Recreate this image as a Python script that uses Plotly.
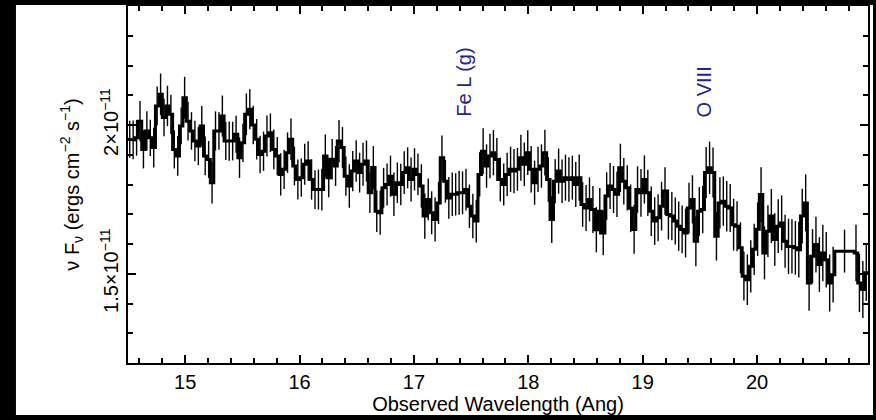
import numpy as np
import plotly.graph_objects as go

# Bin edges in Angstrom: regular 0.03 A grid, one wide bin over 20.68-20.85, then the last few bins
edges = np.concatenate([14.5 + 0.03 * np.arange(207), [20.85, 20.88, 20.91, 20.94, 20.97]])

# nu F_nu per bin, in units of 1e-11 erg cm^-2 s^-1
flux_e11 = [
    1.952, 1.950, 1.957, 2.013, 1.918, 1.980, 1.957, 1.924, 2.064, 2.103,
    2.025, 2.064, 2.036, 1.918, 1.896, 1.997, 2.092, 2.013, 1.980, 1.946,
    1.929, 1.997, 1.896, 1.884, 1.806, 1.980, 1.980, 2.030, 1.946, 1.946,
    1.946, 1.969, 1.890, 1.940, 2.036, 2.053, 2.000, 1.952, 1.901, 1.912,
    1.963, 1.974, 1.918, 1.896, 1.834, 1.851, 1.907, 1.952, 1.862, 1.817,
    1.823, 1.868, 1.879, 1.817, 1.783, 1.783, 1.783, 1.896, 1.823, 1.885,
    1.862, 1.946, 1.924, 1.828, 1.795, 1.845, 1.879, 1.840, 1.868, 1.879,
    1.772, 1.857, 1.710, 1.705, 1.789, 1.800, 1.828, 1.767, 1.806, 1.800,
    1.840, 1.856, 1.817, 1.851, 1.834, 1.795, 1.694, 1.750, 1.705, 1.682,
    1.738, 1.890, 1.811, 1.755, 1.767, 1.767, 1.772, 1.772, 1.783, 1.727,
    1.694, 1.677, 1.834, 1.912, 1.862, 1.896, 1.907, 1.884, 1.817, 1.800,
    1.834, 1.851, 1.845, 1.851, 1.890, 1.868, 1.907, 1.851, 1.806, 1.851,
    1.862, 1.907, 1.817, 1.682, 1.811, 1.845, 1.811, 1.823, 1.817, 1.823,
    1.800, 1.823, 1.733, 1.721, 1.750, 1.716, 1.648, 1.710, 1.637, 1.761,
    1.795, 1.783, 1.767, 1.856, 1.811, 1.789, 1.720, 1.649, 1.783, 1.772,
    1.817, 1.772, 1.710, 1.677, 1.688, 1.727, 1.778, 1.699, 1.694, 1.677,
    1.660, 1.649, 1.637, 1.721, 1.750, 1.609, 1.710, 1.716, 1.840, 1.856,
    1.840, 1.626, 1.738, 1.744, 1.727, 1.721, 1.665, 1.660, 1.587, 1.492,
    1.480, 1.525, 1.582, 1.650, 1.766, 1.570, 1.643, 1.694, 1.615, 1.660,
    1.671, 1.609, 1.592, 1.592, 1.587, 1.581, 1.694, 1.738, 1.469, 1.559,
    1.598, 1.531, 1.570, 1.547, 1.469, 1.497, 1.576, 1.570, 1.469, 1.447,
    1.503,
]

# 1-sigma errors per bin, same units
err_e11 = [
    0.062, 0.065, 0.060, 0.068, 0.064, 0.066, 0.061, 0.067, 0.065, 0.070,
    0.063, 0.068, 0.066, 0.064, 0.067, 0.062, 0.070, 0.065, 0.063, 0.068,
    0.064, 0.067, 0.065, 0.062, 0.070, 0.066, 0.063, 0.069, 0.064, 0.066,
    0.065, 0.062, 0.068, 0.064, 0.070, 0.067, 0.065, 0.068, 0.063, 0.066,
    0.069, 0.065, 0.067, 0.064, 0.071, 0.066, 0.068, 0.070, 0.065, 0.067,
    0.064, 0.069, 0.066, 0.068, 0.065, 0.067, 0.070, 0.072, 0.066, 0.068,
    0.067, 0.071, 0.069, 0.066, 0.073, 0.068, 0.070, 0.067, 0.072, 0.069,
    0.068, 0.072, 0.070, 0.074, 0.067, 0.071, 0.069, 0.073, 0.068, 0.070,
    0.072, 0.069, 0.074, 0.071, 0.070, 0.073, 0.076, 0.070, 0.072, 0.074,
    0.071, 0.075, 0.072, 0.070, 0.073, 0.071, 0.074, 0.072, 0.070, 0.073,
    0.075, 0.072, 0.074, 0.077, 0.073, 0.075, 0.076, 0.072, 0.074, 0.071,
    0.073, 0.076, 0.074, 0.072, 0.077, 0.073, 0.075, 0.078, 0.074, 0.076,
    0.073, 0.077, 0.075, 0.079, 0.074, 0.076, 0.073, 0.077, 0.075, 0.074,
    0.076, 0.078, 0.075, 0.077, 0.074, 0.079, 0.076, 0.078, 0.075, 0.080,
    0.077, 0.079, 0.076, 0.081, 0.078, 0.076, 0.080, 0.082, 0.078, 0.080,
    0.081, 0.078, 0.083, 0.080, 0.079, 0.082, 0.080, 0.084, 0.081, 0.079,
    0.083, 0.080, 0.082, 0.085, 0.081, 0.084, 0.082, 0.080, 0.086, 0.088,
    0.084, 0.082, 0.086, 0.083, 0.085, 0.081, 0.087, 0.084, 0.086, 0.082,
    0.085, 0.088, 0.086, 0.090, 0.092, 0.089, 0.087, 0.091, 0.088, 0.090,
    0.092, 0.089, 0.093, 0.091, 0.090, 0.094, 0.092, 0.096, 0.093, 0.091,
    0.094, 0.092, 0.095, 0.093, 0.096, 0.094, 0.072, 0.095, 0.098, 0.096,
    0.094,
]

# Line identifications: label and observed wavelength (A)
line_labels = ["Fe L (g)", "O VIII"]
line_waves = [17.43, 19.535]

# Axis ticks
x_range = [14.5, 20.97]
y_range_e11 = [1.2, 2.4]
y_tick_e11 = [1.5, 2.0]
y_tick_text = ["1.5×10<sup>−11</sup>", "2×10<sup>−11</sup>"]

SCALE = 1e-11
flux = np.array(flux_e11) * SCALE
err = np.array(err_e11) * SCALE
centers = 0.5 * (edges[:-1] + edges[1:])

# histogram outline: each bin drawn flat across its width
step_x = np.repeat(edges, 2)[1:-1]
step_y = np.repeat(flux, 2)

FONT = "Liberation Sans, Arial, Helvetica, sans-serif"

fig = go.Figure()
fig.add_trace(go.Scatter(
    x=step_x, y=step_y, mode="lines",
    line=dict(color="black", width=3),
    hoverinfo="skip", showlegend=False,
))
fig.add_trace(go.Scatter(
    x=centers, y=flux, mode="markers",
    marker=dict(size=1, color="black"),
    error_y=dict(type="data", array=err, visible=True,
                 color="black", thickness=1.4, width=0),
    showlegend=False,
))

for label, wave in zip(line_labels, line_waves):
    fig.add_annotation(
        x=wave, y=2.02e-11, xref="x", yref="y",
        text=label, textangle=-90, showarrow=False,
        xanchor="center", yanchor="bottom",
        font=dict(family=FONT, size=20, color="#24248a"),
    )

# white page on a black surround
fig.add_shape(
    type="rect", xref="paper", yref="paper",
    x0=-0.1514, x1=1.0068, y0=-0.1457, y1=1.0028,
    fillcolor="white", line=dict(width=0), layer="below",
)

axis_common = dict(
    showline=True, linecolor="black", linewidth=2, mirror="allticks",
    ticks="inside", tickcolor="black", tickwidth=1.5, ticklen=8,
    showgrid=False, zeroline=False,
    tickfont=dict(family=FONT, size=20, color="black"),
)

fig.update_xaxes(
    range=x_range, dtick=1, tick0=0,
    minor=dict(dtick=0.2, tick0=0, ticks="inside", ticklen=5,
               tickwidth=1.5, tickcolor="black", showgrid=False),
    title=dict(text="Observed Wavelength (Ang)",
               font=dict(family=FONT, size=20, color="black"), standoff=2),
    **axis_common,
)
fig.update_yaxes(
    range=[v * SCALE for v in y_range_e11],
    tickmode="array",
    tickvals=[v * SCALE for v in y_tick_e11],
    ticktext=y_tick_text,
    tickangle=-90,
    minor=dict(tickmode="linear", dtick=0.1 * SCALE, tick0=0, ticks="inside",
               ticklen=5, tickwidth=1.5, tickcolor="black", showgrid=False),
    title=dict(text="ν F<sub>ν</sub> (ergs cm<sup>−2</sup> s<sup>−1</sup>)",
               font=dict(family=FONT, size=20, color="black"), standoff=12),
    **axis_common,
)

fig.update_layout(
    width=876, height=420,
    margin=dict(l=128, r=8, t=6, b=57, autoexpand=False),
    paper_bgcolor="black", plot_bgcolor="white",
    font=dict(family=FONT, color="black"),
)

fig.write_html("out.html")
